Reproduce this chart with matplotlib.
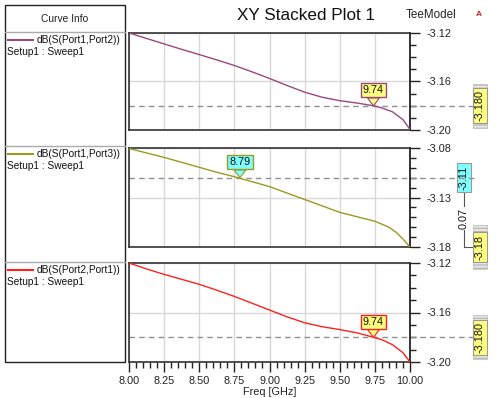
#!/usr/bin/env python
# coding: utf-8

# Importing packages
import matplotlib
matplotlib.use('Agg')
import matplotlib.pyplot as plt
from matplotlib.patches import Rectangle
from matplotlib.ticker import MultipleLocator, FixedLocator

plt.rcParams['font.family'] = ['Liberation Sans', 'DejaVu Sans']

# Data
freq12 = [8.0, 8.125, 8.25, 8.375, 8.5, 8.625, 8.75, 8.875, 9.0, 9.125, 9.25,
          9.375, 9.5, 9.625, 9.74, 9.8, 9.875, 9.95, 10.0]
s12 = [-3.1200, -3.1245, -3.1290, -3.1335, -3.1378, -3.1422, -3.1468, -3.1520,
       -3.1575, -3.1633, -3.1688, -3.1730, -3.1758, -3.1778, -3.1800, -3.1818,
       -3.1850, -3.1915, -3.1995]

freq13 = [8.0, 8.125, 8.25, 8.375, 8.5, 8.625, 8.75, 8.875, 9.0, 9.125, 9.25,
          9.375, 9.5, 9.625, 9.75, 9.85, 9.9, 9.95, 10.0]
s13 = [-3.0805, -3.0850, -3.0895, -3.0945, -3.0995, -3.1045, -3.1090, -3.1140,
       -3.1190, -3.1255, -3.1320, -3.1385, -3.1450, -3.1495, -3.1540, -3.1600,
       -3.1650, -3.1720, -3.1800]

freq21 = [8.0, 8.125, 8.25, 8.375, 8.5, 8.625, 8.75, 8.875, 9.0, 9.125, 9.25,
          9.375, 9.5, 9.625, 9.74, 9.8, 9.875, 9.95, 10.0]
s21 = [-3.1200, -3.1248, -3.1292, -3.1332, -3.1372, -3.1420, -3.1470, -3.1525,
       -3.1580, -3.1635, -3.1683, -3.1715, -3.1738, -3.1765, -3.1800, -3.1820,
       -3.1860, -3.1925, -3.2000]

curve_names = ['dB(S(Port1,Port2))', 'dB(S(Port1,Port3))', 'dB(S(Port2,Port1))']
sweep_label = 'Setup1 : Sweep1'
colors = ['#9a4a7a', '#9a9a20', '#ff2020']
ylims = [(-3.20, -3.12), (-3.18, -3.08), (-3.20, -3.12)]
yticks = [[-3.20, -3.16, -3.12], [-3.18, -3.13, -3.08], [-3.20, -3.16, -3.12]]
ytick_labels = [['-3.20', '-3.16', '-3.12'], ['-3.18', '-3.13', '-3.08'],
                ['-3.20', '-3.16', '-3.12']]
xticks = [8.0, 8.25, 8.5, 8.75, 9.0, 9.25, 9.5, 9.75, 10.0]

# markers: (x, y, label, box colour)
markers = [(9.74, -3.180, '9.74', '#ffff80'),
           (8.79, -3.110, '8.79', '#80ffff'),
           (9.74, -3.180, '9.74', '#ffff80')]

# Figure
W, H = 502, 398
fig = plt.figure(figsize=(W / 100, H / 100), dpi=100)
fig.patch.set_facecolor('white')

# overlay in pixel coordinates for the panel frames
ov = fig.add_axes([0, 0, 1, 1])
ov.set_xlim(0, W)
ov.set_ylim(H, 0)
ov.axis('off')

# Curve Info panel
ov.add_patch(Rectangle((5, 5), 120, 357, fill=False, ec='#222222', lw=1.0))
ov.plot([5, 125], [32, 32], color='#aaaaaa', lw=1.0)
ov.text(65, 19, 'Curve Info', ha='center', va='center', fontsize=7.4, color='#222222')
row_tops = [32, 146, 262]
for i, top in enumerate(row_tops):
    if i > 0:
        ov.plot([5, 125], [top, top], color='#aaaaaa', lw=1.0)
    ov.plot([8, 33], [top + 8, top + 8], color=colors[i], lw=1.5)
    ov.text(37, top + 8, curve_names[i], ha='left', va='center', fontsize=7.3,
            color='#111111')
    ov.text(7, top + 20, sweep_label, ha='left', va='center', fontsize=7.3,
            color='#111111')

# Title texts
fig.text(306 / W, 1 - 16 / H, 'XY Stacked Plot 1', ha='center', va='center',
         fontsize=12.3, color='#111111')
fig.text(431 / W, 1 - 15 / H, 'TeeModel', ha='center', va='center',
         fontsize=8.4, color='#222222')
fig.text(479 / W, 1 - 14 / H, 'A', ha='center', va='center', fontsize=6,
         color='#cc2020', fontweight='bold')

# Plot axes
x0, wd = 129 / W, 281 / W
boxes = [(33, 130), (148, 247), (263, 362)]
data = [(freq12, s12), (freq13, s13), (freq21, s21)]
axes = []
for i, (top, bot) in enumerate(boxes):
    ax = fig.add_axes([x0, 1 - bot / H, wd, (bot - top) / H])
    fx, fy = data[i]
    ax.plot(fx, fy, color=colors[i], lw=1.0, zorder=3)
    ax.set_xlim(8.0, 10.0)
    ax.set_ylim(*ylims[i])
    ax.yaxis.tick_right()
    ax.yaxis.set_major_locator(FixedLocator(yticks[i]))
    ax.set_yticklabels(ytick_labels[i])
    ax.yaxis.set_minor_locator(MultipleLocator(0.01))
    ax.tick_params(axis='y', which='major', length=7, width=1.0, pad=5,
                   labelsize=7.8, colors='#222222')
    ax.tick_params(axis='y', which='minor', length=4, width=1.0, colors='#222222')
    ax.xaxis.set_major_locator(FixedLocator(xticks))
    ax.grid(True, which='major', color='#d8d8d8', lw=1.0, zorder=0)
    for s in ax.spines.values():
        s.set_color('#333333')
        s.set_linewidth(1.2)
    ax.spines['right'].set_color('#111111')
    if i < 2:
        ax.tick_params(axis='x', which='both', length=0, labelbottom=False)
    else:
        ax.xaxis.set_minor_locator(MultipleLocator(0.05))
        ax.set_xticklabels(['%.2f' % t for t in xticks])
        ax.tick_params(axis='x', which='major', length=7, width=1.0, pad=3,
                       labelsize=7.8, colors='#222222')
        ax.tick_params(axis='x', which='minor', length=4, width=1.0, colors='#222222')
        ax.set_xlabel('Freq [GHz]', fontsize=7.8, labelpad=1, color='#222222')

    # marker with callout
    mx, my, mlab, mcol = markers[i]
    ax.axhline(my, color='#909090', lw=1.0, ls=(0, (4, 3)), zorder=2)
    ax.plot([1.0, 1.23], [my, my], transform=ax.get_yaxis_transform(),
            color='#909090', lw=1.0, ls=(0, (4, 3)), clip_on=False)
    ax.annotate(mlab, xy=(mx, my), xytext=(0, 7.5), textcoords='offset points',
                ha='center', va='bottom', fontsize=7.8, color='#111111',
                bbox=dict(boxstyle='square,pad=0.2', fc=mcol, ec=colors[i], lw=1.0),
                arrowprops=dict(arrowstyle='wedge,tail_width=1.1,shrink_factor=0.5',
                                fc=mcol, ec=colors[i], lw=0.8,
                                shrinkA=0, shrinkB=0),
                zorder=5)
    axes.append(ax)


# value boxes on the right
def value_box(xc, yc, txt, col, hatch_ends=True):
    if hatch_ends:
        ov.add_patch(Rectangle((xc - 7, yc - 22), 14, 44, fc='#e8e8e8',
                               ec='#bbbbbb', hatch='-----', lw=0.5))
    ov.text(xc, yc, txt, rotation=90, ha='center', va='center', fontsize=7.8,
            color='#111111',
            bbox=dict(boxstyle='square,pad=0.2', fc=col, ec='#999999', lw=0.8))


ax_pix = lambda ax, y: H - ax.transData.transform((8.0, y))[1]
fig.canvas.draw()
value_box(480, ax_pix(axes[0], -3.180), '-3.180', '#ffff80')
value_box(480, ax_pix(axes[2], -3.180), '-3.180', '#ffff80')
y311 = ax_pix(axes[1], -3.11)
y318 = ax_pix(axes[1], -3.18)
value_box(480, y318, '-3.18', '#ffff80')
ov.plot([464, 464], [y311 + 14, y318], color='#555555', lw=0.8)
ov.plot([464, 473], [y318, y318], color='#555555', lw=0.8)
ov.text(464, (y311 + y318) / 2 + 6, '0.07', rotation=90, ha='center', va='center',
        fontsize=7.8, color='#111111',
        bbox=dict(boxstyle='square,pad=0.1', fc='white', ec='none'))
value_box(464, y311, '-3.11', '#80ffff', hatch_ends=False)

plt.savefig('out.png', dpi=100)
